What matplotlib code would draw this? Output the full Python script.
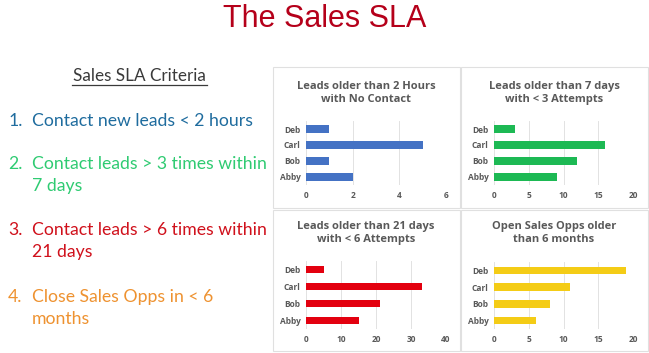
import matplotlib.pyplot as plt
from matplotlib.patches import Rectangle

# data
people = ["Abby", "Bob", "Carl", "Deb"]
no_contact_2h = [2, 1, 5, 1]
under3_7days = [9, 12, 16, 3]
under6_21days = [15, 21, 33, 5]
opps_6months = [6, 8, 11, 19]

chart_titles = [
    "Leads older than 2 Hours\nwith No Contact",
    "Leads older than 7 days\nwith < 3 Attempts",
    "Leads older than 21 days\nwith < 6 Attempts",
    "Open Sales Opps older\nthan 6 months",
]
chart_colors = ["#4472C4", "#1DB954", "#E3000F", "#F4CC16"]
chart_xmax = [6, 20, 40, 20]
chart_xstep = [2, 5, 10, 5]

criteria = [
    ("1.", ["Contact new leads < 2 hours"], "#1F6C9E"),
    ("2.", ["Contact leads > 3 times within", "7 days"], "#2FCB72"),
    ("3.", ["Contact leads > 6 times within", "21 days"], "#D0101B"),
    ("4.", ["Close Sales Opps in < 6", "months"], "#EE9230"),
]

W, H = 649, 353
fig = plt.figure(figsize=(W / 100, H / 100), dpi=100)
fig.patch.set_facecolor("white")


def fx(px):
    return px / W


def fy(py):
    return 1 - py / H


# title
fig.text(fx(325), fy(19), "The Sales SLA", ha="center", va="center",
         fontsize=22, color="#B5001A", family="Liberation Sans")

# left column
fig.text(fx(139), fy(76), "Sales SLA Criteria", ha="center", va="center",
         fontsize=12.3, color="#3A3A3A", family="Lato")
fig.add_artist(plt.Line2D([fx(72), fx(207)], [fy(85), fy(85)], color="#3A3A3A", lw=0.9))

item_y = [121, 164, 230, 297]
for (num, lines, col), y0 in zip(criteria, item_y):
    fig.text(fx(8), fy(y0), num, ha="left", va="center", fontsize=12.7,
             color=col, family="Lato")
    for i, line in enumerate(lines):
        fig.text(fx(32), fy(y0 + 22 * i), line, ha="left", va="center",
                 fontsize=12.7, color=col, family="Lato")

# panel frames
frame = dict(fill=False, ec="#E0E0E0", lw=0.8, transform=fig.transFigure)
for (x0, x1) in [(273, 460), (461, 648)]:
    for (y0, y1) in [(67, 208), (210, 351)]:
        fig.add_artist(Rectangle((fx(x0), fy(y1)), fx(x1 - x0), (y1 - y0) / H, **frame))

# small bar charts
series = [no_contact_2h, under3_7days, under6_21days, opps_6months]
axes_pos = [
    (306, 121, 140, 64),
    (494, 121, 139, 64),
    (306, 261, 140, 68),
    (494, 262, 139, 67),
]
panel_centers = [(366, 93), (554, 93), (366, 233), (554, 233)]

for k in range(4):
    x0, y0, w, h = axes_pos[k]
    ax = fig.add_axes([fx(x0), fy(y0 + h), w / W, h / H])
    ax.barh(people, series[k], height=0.45, color=chart_colors[k], zorder=3)
    ax.set_xlim(0, chart_xmax[k])
    ax.set_ylim(-0.5, 3.5)
    ax.set_xticks(range(0, chart_xmax[k] + 1, chart_xstep[k]))
    ax.grid(axis="x", color="#E2E2E2", lw=0.7, zorder=0)
    for s in ax.spines.values():
        s.set_visible(False)
    ax.tick_params(length=0, labelsize=6, colors="#595959", pad=4)
    for lab in ax.get_yticklabels() + ax.get_xticklabels():
        lab.set_fontweight("bold")
        lab.set_family("Open Sans")
    cx, cy = panel_centers[k]
    fig.text(fx(cx), fy(cy), chart_titles[k], ha="center", va="center",
             fontsize=8, fontweight="bold", color="#595959", family="Open Sans",
             linespacing=1.3)

fig.savefig("out.png", dpi=100)
